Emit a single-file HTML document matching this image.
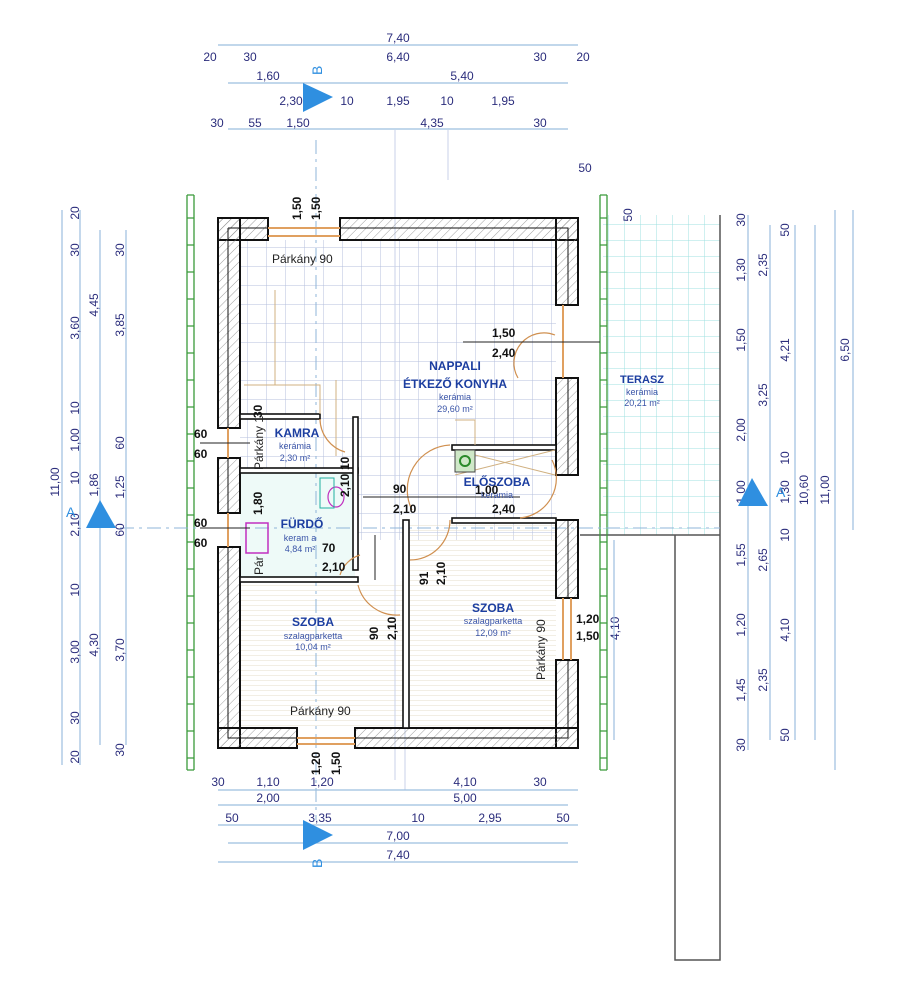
<!DOCTYPE html>
<html><head><meta charset="utf-8"><style>
html,body{margin:0;padding:0;background:#fff}
svg{display:block}
.d{font-family:"Liberation Sans",sans-serif;font-size:12px;fill:#2b2d7c}
.k{font-family:"Liberation Sans",sans-serif;font-size:12px;fill:#111;font-weight:bold}
.r{font-family:"Liberation Sans",sans-serif;fill:#1c3ea0;font-weight:bold;font-size:12px;text-anchor:middle}
.s{font-family:"Liberation Sans",sans-serif;fill:#3b55a8;font-size:9px;text-anchor:middle}
.p{font-family:"Liberation Sans",sans-serif;font-size:12px;fill:#222}
</style></head><body>
<svg width="905" height="1000" viewBox="0 0 905 1000" xmlns="http://www.w3.org/2000/svg">
<defs>
<pattern id="grid" width="19" height="19" patternUnits="userSpaceOnUse"><path d="M0 0H19M0 0V19" stroke="#b4bfdc" stroke-width="1" fill="none"/></pattern>
<pattern id="tgrid" width="16" height="16" patternUnits="userSpaceOnUse"><path d="M0 0H16M0 0V16" stroke="#9fe0e0" stroke-width="1" fill="none"/></pattern>
<pattern id="par" width="8" height="5" patternUnits="userSpaceOnUse"><path d="M0 0H8" stroke="#e4dcc8" stroke-width="1"/></pattern>
<pattern id="hat" width="6" height="6" patternUnits="userSpaceOnUse" patternTransform="rotate(45)"><path d="M0 0V6" stroke="#888" stroke-width="0.8"/></pattern>
</defs>
<rect width="905" height="1000" fill="#fff"/>

<rect x="603" y="215" width="117" height="320" fill="url(#tgrid)"/>
<path d="M720 215V960H675V535M580 535H720" stroke="#555" stroke-width="1.5" fill="none"/>
<rect x="240" y="240" width="316" height="300" fill="url(#grid)"/>
<rect x="240" y="470" width="115" height="108" fill="#eefaf8"/>
<rect x="240" y="582" width="165" height="146" fill="url(#par)"/>
<rect x="410" y="523" width="146" height="205" fill="url(#par)"/>
<rect x="455" y="450" width="100" height="70" fill="url(#grid)"/>

<g stroke="#3a9a3a" stroke-width="1.3" fill="none">
<path d="M187 195V770M194 195V770M600 195V770M607 195V770"/>
<path d="M187 195h7M187 770h7M600 195h7M600 770h7"/>
<path d="M187 218h7M187 245h7M187 272h7M187 299h7M187 326h7M187 353h7M187 380h7M187 407h7M187 434h7M187 461h7M187 488h7M187 515h7M187 542h7M187 569h7M187 596h7M187 623h7M187 650h7M187 677h7M187 704h7M187 731h7M187 758h7"/>
<path d="M600 218h7M600 245h7M600 272h7M600 299h7M600 326h7M600 353h7M600 380h7M600 407h7M600 434h7M600 461h7M600 488h7M600 515h7M600 542h7M600 569h7M600 596h7M600 623h7M600 650h7M600 677h7M600 704h7M600 731h7M600 758h7"/>
</g>

<g stroke="#c8d2e8" stroke-width="1">
<path d="M395 130V780M405 700V790M448 130V180"/>
</g>
<path d="M316 140V820" stroke="#8fb4d8" stroke-width="1" stroke-dasharray="14,5,3,5"/>
<path d="M120 528H720" stroke="#8fb4d8" stroke-width="1" stroke-dasharray="14,5,3,5"/>

<g fill="url(#hat)" stroke="#111" stroke-width="2">
<rect x="218" y="218" width="50" height="22"/>
<rect x="340" y="218" width="238" height="22"/>
<rect x="556" y="218" width="22" height="87"/>
<rect x="556" y="378" width="22" height="97"/>
<rect x="556" y="520" width="22" height="78"/>
<rect x="556" y="660" width="22" height="88"/>
<rect x="218" y="218" width="22" height="210"/>
<rect x="218" y="458" width="22" height="55"/>
<rect x="218" y="547" width="22" height="201"/>
<rect x="218" y="728" width="79" height="20"/>
<rect x="355" y="728" width="223" height="20"/>
</g>
<g stroke="#111" stroke-width="1" fill="none">
<path d="M228 228H268M340 228H568V305M568 378V475M568 520V598M568 660V738H355M297 738H228V547M228 513V458M228 428V228"/>
</g>
<g stroke="#e0a060" stroke-width="2" fill="none">
<path d="M268 228H340M268 236H340M297 738H355M297 744H355M563 598V660M571 598V660M228 428V458M228 513V547M563 305V378"/>
</g>
<g fill="#fff" stroke="#111" stroke-width="1.6">
<rect x="240" y="414" width="80" height="5"/>
<rect x="240" y="468" width="118" height="5"/>
<rect x="353" y="417" width="5" height="153"/>
<rect x="240" y="577" width="118" height="5"/>
<rect x="403" y="520" width="6" height="208"/>
<rect x="452" y="518" width="104" height="5"/>
<rect x="452" y="445" width="104" height="5"/>
</g>
<g stroke="#d0b080" stroke-width="1" fill="none">
<path d="M244 385H320V414M275 290V385M336 380V456M455 420H475V445"/>
<path d="M455 450L555 475M455 475L555 450"/>
</g>
<rect x="455" y="450" width="20" height="22" fill="#cfe8c8" stroke="#444"/>
<circle cx="465" cy="461" r="5" fill="none" stroke="#2a8a2a" stroke-width="2"/>
<rect x="246" y="523" width="22" height="30" fill="none" stroke="#c030c0" stroke-width="1.5"/>
<ellipse cx="336" cy="497" rx="8" ry="10" fill="none" stroke="#c030c0" stroke-width="1.2"/>
<rect x="320" y="478" width="14" height="30" fill="none" stroke="#20b0a0" stroke-width="1"/>
<g stroke="#d09050" stroke-width="1.2" fill="none">
<path d="M320 419A35 35 0 0 0 345 452"/>
<path d="M555 335A30 30 0 0 0 518 378"/>
<path d="M450 445A45 45 0 0 0 412 510"/>
<path d="M360 555A30 30 0 0 0 340 575"/>
<path d="M358 585A40 40 0 0 0 400 615"/>
<path d="M410 560A40 40 0 0 0 450 520"/>
<path d="M552 460A40 40 0 0 1 520 518"/>
</g>
<g stroke="#222" stroke-width="1">
<path d="M463 342H600M363 497H520M200 443H250M200 528H250M375 535V580"/>
</g>

<text class="r" x="455" y="370">NAPPALI</text>
<text class="r" x="455" y="388">ÉTKEZŐ KONYHA</text>
<text class="s" x="455" y="400">kerámia</text>
<text class="s" x="455" y="412">29,60 m²</text>
<text class="r" x="297" y="437">KAMRA</text>
<text class="s" x="295" y="449">kerámia</text>
<text class="s" x="295" y="461">2,30 m²</text>
<text class="r" x="302" y="528">FÜRDŐ</text>
<text class="s" x="300" y="541">keram a</text>
<text class="s" x="300" y="552">4,84 m²</text>
<text class="r" x="497" y="486">ELŐSZOBA</text>
<text class="s" x="497" y="498">kerámia</text>
<text class="r" x="313" y="626">SZOBA</text>
<text class="s" x="313" y="639">szalagparketta</text>
<text class="s" x="313" y="650">10,04 m²</text>
<text class="r" x="493" y="612">SZOBA</text>
<text class="s" x="493" y="624">szalagparketta</text>
<text class="s" x="493" y="636">12,09 m²</text>
<text class="r" x="642" y="383" style="font-size:11px">TERASZ</text>
<text class="s" x="642" y="395">kerámia</text>
<text class="s" x="642" y="406">20,21 m²</text>

<text class="p" x="272" y="263">Párkány 90</text>
<text class="p" x="290" y="715">Párkány 90</text>
<text class="p" transform="translate(545,680) rotate(-90)">Párkány 90</text>
<text class="p" transform="translate(263,470) rotate(-90)">Párkány 1</text>
<text class="p" transform="translate(263,575) rotate(-90)">Pár</text>

<text class="k" x="492" y="337">1,50</text>
<text class="k" x="492" y="357">2,40</text>
<text class="k" x="393" y="493">90</text>
<text class="k" x="393" y="513">2,10</text>
<text class="k" x="475" y="494">1,00</text>
<text class="k" x="492" y="513">2,40</text>
<text class="k" x="322" y="552">70</text>
<text class="k" x="322" y="571">2,10</text>
<text class="k" x="576" y="623">1,20</text>
<text class="k" x="576" y="640">1,50</text>
<text class="k" x="194" y="438">60</text>
<text class="k" x="194" y="458">60</text>
<text class="k" x="194" y="527">60</text>
<text class="k" x="194" y="547">60</text>
<g class="k">
<text transform="translate(301,220) rotate(-90)">1,50</text>
<text transform="translate(320,220) rotate(-90)">1,50</text>
<text transform="translate(320,775) rotate(-90)">1,20</text>
<text transform="translate(340,775) rotate(-90)">1,50</text>
<text transform="translate(349,470) rotate(-90)">10</text>
<text transform="translate(349,497) rotate(-90)">2,10</text>
<text transform="translate(262,418) rotate(-90)">30</text>
<text transform="translate(262,515) rotate(-90)">1,80</text>
<text transform="translate(428,585) rotate(-90)">91</text>
<text transform="translate(445,585) rotate(-90)">2,10</text>
<text transform="translate(378,640) rotate(-90)">90</text>
<text transform="translate(396,640) rotate(-90)">2,10</text>
<text transform="translate(619,640) rotate(-90)" style="fill:#2b2d7c;font-weight:normal">4,10</text>
</g>

<g stroke="#9cbfdf" stroke-width="1.2">
<path d="M218 45H578M228 83H568M228 129H568"/>
<path d="M218 790H578M218 805H568M218 825H578M228 843H568M218 862H578"/>
<path d="M62 210V765M80 210V765M100 230V745M126 230V745"/>
<path d="M748 215V750M770 225V740M795 225V740M815 225V740M835 210V770M853 210V530"/>
<path d="M614 540V740"/>
</g>

<g class="d" text-anchor="middle">
<text x="398" y="42">7,40</text>
<text x="210" y="61">20</text><text x="250" y="61">30</text><text x="398" y="61">6,40</text><text x="540" y="61">30</text><text x="583" y="61">20</text>
<text x="268" y="80">1,60</text><text x="462" y="80">5,40</text>
<text x="291" y="105">2,30</text><text x="347" y="105">10</text><text x="398" y="105">1,95</text><text x="447" y="105">10</text><text x="503" y="105">1,95</text>
<text x="217" y="127">30</text><text x="255" y="127">55</text><text x="298" y="127">1,50</text><text x="432" y="127">4,35</text><text x="540" y="127">30</text>
<text x="585" y="172">50</text>
<text x="218" y="786">30</text><text x="268" y="786">1,10</text><text x="322" y="786">1,20</text><text x="465" y="786">4,10</text><text x="540" y="786">30</text>
<text x="268" y="802">2,00</text><text x="465" y="802">5,00</text>
<text x="232" y="822">50</text><text x="320" y="822">3,35</text><text x="418" y="822">10</text><text x="490" y="822">2,95</text><text x="563" y="822">50</text>
<text x="398" y="840">7,00</text>
<text x="398" y="859">7,40</text>
</g>

<g class="d" text-anchor="middle">
<text transform="translate(79,213) rotate(-90)">20</text>
<text transform="translate(79,250) rotate(-90)">30</text>
<text transform="translate(79,328) rotate(-90)">3,60</text>
<text transform="translate(79,408) rotate(-90)">10</text>
<text transform="translate(79,440) rotate(-90)">1,00</text>
<text transform="translate(79,478) rotate(-90)">10</text>
<text transform="translate(79,525) rotate(-90)">2,10</text>
<text transform="translate(79,590) rotate(-90)">10</text>
<text transform="translate(79,652) rotate(-90)">3,00</text>
<text transform="translate(79,718) rotate(-90)">30</text>
<text transform="translate(79,757) rotate(-90)">20</text>
<text transform="translate(59,482) rotate(-90)">11,00</text>
<text transform="translate(98,305) rotate(-90)">4,45</text>
<text transform="translate(98,485) rotate(-90)">1,86</text>
<text transform="translate(98,645) rotate(-90)">4,30</text>
<text transform="translate(124,250) rotate(-90)">30</text>
<text transform="translate(124,325) rotate(-90)">3,85</text>
<text transform="translate(124,443) rotate(-90)">60</text>
<text transform="translate(124,487) rotate(-90)">1,25</text>
<text transform="translate(124,530) rotate(-90)">60</text>
<text transform="translate(124,650) rotate(-90)">3,70</text>
<text transform="translate(124,750) rotate(-90)">30</text>
</g>
<g class="d" text-anchor="middle">
<text transform="translate(745,220) rotate(-90)">30</text>
<text transform="translate(745,270) rotate(-90)">1,30</text>
<text transform="translate(745,340) rotate(-90)">1,50</text>
<text transform="translate(745,430) rotate(-90)">2,00</text>
<text transform="translate(745,492) rotate(-90)">1,00</text>
<text transform="translate(745,555) rotate(-90)">1,55</text>
<text transform="translate(745,625) rotate(-90)">1,20</text>
<text transform="translate(745,690) rotate(-90)">1,45</text>
<text transform="translate(745,745) rotate(-90)">30</text>
<text transform="translate(767,265) rotate(-90)">2,35</text>
<text transform="translate(767,395) rotate(-90)">3,25</text>
<text transform="translate(767,560) rotate(-90)">2,65</text>
<text transform="translate(767,680) rotate(-90)">2,35</text>
<text transform="translate(789,230) rotate(-90)">50</text>
<text transform="translate(789,350) rotate(-90)">4,21</text>
<text transform="translate(789,458) rotate(-90)">10</text>
<text transform="translate(789,492) rotate(-90)">1,30</text>
<text transform="translate(789,535) rotate(-90)">10</text>
<text transform="translate(789,630) rotate(-90)">4,10</text>
<text transform="translate(789,735) rotate(-90)">50</text>
<text transform="translate(808,490) rotate(-90)">10,60</text>
<text transform="translate(829,490) rotate(-90)">11,00</text>
<text transform="translate(849,350) rotate(-90)">6,50</text>
<text transform="translate(632,215) rotate(-90)">50</text>
</g>

<g fill="#2f8fe0">
<polygon points="303,83 333,97 303,112"/>
<polygon points="303,820 333,835 303,850"/>
<polygon points="100,500 116,528 86,528"/>
<polygon points="752,478 768,506 738,506"/>
</g>
<g font-family="Liberation Sans,sans-serif" font-size="14" fill="#2f8fe0">
<text transform="translate(322,75) rotate(-90)">B</text>
<text transform="translate(322,868) rotate(-90)">B</text>
<text x="66" y="517">A</text>
<text x="776" y="497">A</text>
</g>
</svg>
</body></html>
